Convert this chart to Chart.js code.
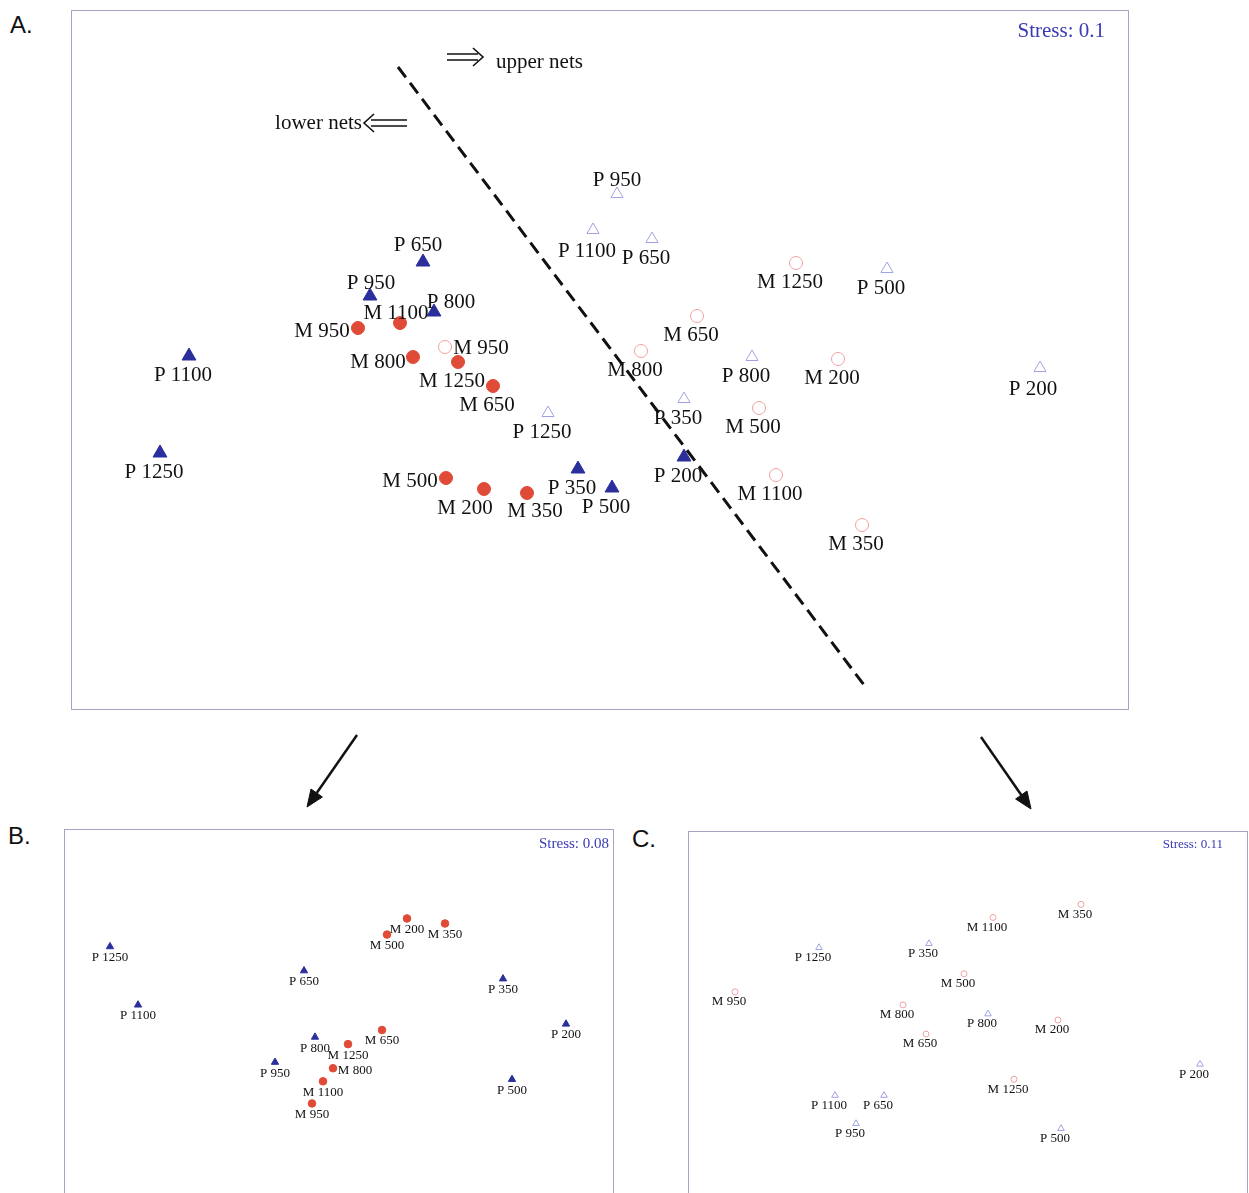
<!DOCTYPE html>
<html>
<head>
<meta charset="utf-8">
<title>MDS ordination of net samples</title>
<script src="https://cdn.jsdelivr.net/npm/chart.js@4.4.0/dist/chart.umd.min.js"></script>
<style>
  html, body { margin: 0; padding: 0; background: #fff; }
  body { width: 1249px; height: 1193px; position: relative; overflow: hidden; }
  .panel { position: absolute; border: 1px solid #a4a4c4; background: #fff; }
  .tag { position: absolute; font: 24px "Liberation Sans", Arial, sans-serif; line-height: 24px; color: #111; }
  svg.links { position: absolute; left: 0; top: 0; }
</style>
</head>
<body>
<div class="tag" style="left:10px;top:13px">A.</div>
<div class="tag" style="left:8px;top:824px">B.</div>
<div class="tag" style="left:632px;top:827px">C.</div>

<div class="panel" style="left:71px;top:10px;width:1056px;height:698px"><canvas id="chartA"></canvas></div>
<div class="panel" style="left:64px;top:829px;width:548px;height:380px"><canvas id="chartB"></canvas></div>
<div class="panel" style="left:688px;top:831px;width:558px;height:380px"><canvas id="chartC"></canvas></div>

<svg class="links" width="1249" height="1193">
  <g stroke="#111" stroke-width="2.5" fill="#111">
    <line x1="357" y1="735" x2="316.7" y2="793"/>
    <polygon points="307,807 322.4,797 311,789" stroke-width="1"/>
    <line x1="981" y1="737" x2="1021.3" y2="795"/>
    <polygon points="1031,809 1015.6,799 1027,791" stroke-width="1"/>
  </g>
</svg>

<script>
const depths = [200, 350, 500, 650, 800, 950, 1100, 1250];
const pNames = depths.map(d => 'P ' + d);
const mNames = depths.map(d => 'M ' + d);

// A: all nets together, in depth order 200 ... 1250
const aLowerP = [[0.42, -0.485], [-0.11, -0.545], [0.06, -0.64], [-0.885, 0.49],
                 [-0.83, 0.24], [-1.15, 0.32], [-2.055, 0.02], [-2.2, -0.465]];
const aLowerM = [[-0.58, -0.645], [-0.365, -0.665], [-0.77, -0.59], [-0.535, -0.13],
                 [-0.935, 0.015], [-1.21, 0.16], [-1.0, 0.185], [-0.71, -0.01]];
const aUpperP = [[2.2, -0.04], [0.42, -0.195], [1.435, 0.455], [0.26, 0.605],
                 [0.76, 0.015], [0.085, 0.83], [-0.035, 0.65], [-0.26, -0.265]];
const aUpperM = [[1.19, 0.005], [1.31, -0.825], [0.795, -0.24], [0.485, 0.22],
                 [0.205, 0.045], [-0.775, 0.065], [0.88, -0.575], [0.98, 0.485]];
const dividerLine = [[-1.01, 1.465], [1.32, -1.625]];

// B: lower nets only
const bP = [[2.27, -0.04], [1.64, 0.41], [1.73, -0.59], [-0.35, 0.49],
            [-0.24, -0.17], [-0.64, -0.42], [-2.01, 0.15], [-2.29, 0.73]];
const bM = [[0.68, 1.01], [1.06, 0.96], [0.48, 0.85], [0.43, -0.10],
            [-0.06, -0.48], [-0.27, -0.83], [-0.16, -0.61], [0.09, -0.24]];

// C: upper nets only
const cP = [[2.32, -0.42], [-0.39, 0.78], [0.93, -1.06], [-0.84, -0.73],
            [0.20, 0.08], [-1.12, -1.01], [-1.33, -0.73], [-1.49, 0.74]];
const cM = [[0.90, 0.02], [1.13, 1.17], [-0.04, 0.48], [-0.42, -0.12],
            [-0.65, 0.17], [-2.33, 0.30], [0.25, 1.04], [0.46, -0.57]];

const stressA = 'Stress: 0.1';
const stressB = 'Stress: 0.08';
const stressC = 'Stress: 0.11';

const SERIF = '"Liberation Serif", "Times New Roman", serif';

// writes the sample name next to each point
const pointLabels = {
  id: 'pointLabels',
  afterDatasetsDraw(chart, args, opts) {
    const ctx = chart.ctx;
    ctx.save();
    ctx.font = opts.size + 'px ' + SERIF;
    ctx.fillStyle = '#111';
    ctx.textAlign = 'center';
    ctx.textBaseline = 'middle';
    chart.data.datasets.forEach((ds, i) => {
      if (!ds.names) return;
      chart.getDatasetMeta(i).data.forEach((pt, j) => {
        const name = ds.names[j];
        const off = (ds.nudge && ds.nudge[name]) || opts.offset;
        ctx.fillText(name, pt.x + off[0], pt.y + off[1]);
      });
    });
    ctx.restore();
  }
};

const stressNote = {
  id: 'stressNote',
  afterDraw(chart, args, opts) {
    const ctx = chart.ctx, area = chart.chartArea;
    ctx.save();
    ctx.font = opts.size + 'px ' + SERIF;
    ctx.fillStyle = '#3a3ab4';
    ctx.textAlign = 'right';
    ctx.textBaseline = 'middle';
    ctx.fillText(opts.text, area.right - opts.right, area.top + opts.top);
    ctx.restore();
  }
};

// "=> upper nets" / "lower nets <=" hints beside the divider
const netHints = {
  id: 'netHints',
  afterDraw(chart, args, opts) {
    const ctx = chart.ctx, sx = chart.scales.x, sy = chart.scales.y;
    ctx.save();
    ctx.strokeStyle = '#111';
    ctx.fillStyle = '#111';
    ctx.lineWidth = 1.6;
    ctx.font = '21px ' + SERIF;
    ctx.textBaseline = 'middle';

    let x = sx.getPixelForValue(opts.upper[0]), y = sy.getPixelForValue(opts.upper[1]);
    ctx.beginPath();
    ctx.moveTo(x, y - 3); ctx.lineTo(x + 31, y - 3);
    ctx.moveTo(x, y + 3); ctx.lineTo(x + 31, y + 3);
    ctx.moveTo(x + 26, y - 9); ctx.lineTo(x + 36, y); ctx.lineTo(x + 26, y + 9);
    ctx.stroke();
    ctx.textAlign = 'left';
    ctx.fillText('upper nets', x + 49, y + 5);

    x = sx.getPixelForValue(opts.lower[0]); y = sy.getPixelForValue(opts.lower[1]);
    ctx.beginPath();
    ctx.moveTo(x, y - 3); ctx.lineTo(x - 36, y - 3);
    ctx.moveTo(x, y + 3); ctx.lineTo(x - 36, y + 3);
    ctx.moveTo(x - 33, y - 9); ctx.lineTo(x - 43, y); ctx.lineTo(x - 33, y + 9);
    ctx.stroke();
    ctx.textAlign = 'right';
    ctx.fillText('lower nets', x - 45, y);
    ctx.restore();
  }
};

function points(pairs) {
  return pairs.map(p => ({ x: p[0], y: p[1] }));
}

function marks(pairs, names, style, nudge) {
  return Object.assign({ data: points(pairs), names: names, nudge: nudge || null, showLine: false }, style);
}

function filledTri(r) {
  return { pointStyle: 'triangle', pointRadius: r, pointBackgroundColor: '#2b2f9c', pointBorderColor: '#2b2f9c', pointBorderWidth: 1 };
}
function filledDot(r) {
  return { pointStyle: 'circle', pointRadius: r, pointBackgroundColor: '#df4b37', pointBorderColor: '#df4b37', pointBorderWidth: 1 };
}
function openTri(r) {
  return { pointStyle: 'triangle', pointRadius: r, pointBackgroundColor: 'rgba(0,0,0,0)', pointBorderColor: '#a0a3e4', pointBorderWidth: 1 };
}
function openDot(r) {
  return { pointStyle: 'circle', pointRadius: r, pointBackgroundColor: 'rgba(0,0,0,0)', pointBorderColor: '#f2a0a0', pointBorderWidth: 1 };
}

function mdsChart(id, datasets, range, pluginOpts) {
  return new Chart(document.getElementById(id), {
    type: 'scatter',
    data: { datasets: datasets },
    options: {
      responsive: true,
      maintainAspectRatio: false,
      animation: false,
      events: [],
      layout: { padding: 0, autoPadding: false },
      scales: {
        x: { type: 'linear', display: false, min: -range[0], max: range[0] },
        y: { type: 'linear', display: false, min: -range[1], max: range[1] }
      },
      plugins: Object.assign({ legend: { display: false }, tooltip: { enabled: false } }, pluginOpts)
    },
    plugins: [pointLabels, stressNote, netHints]
  });
}

mdsChart('chartA', [
  { data: points(dividerLine), showLine: true, borderColor: '#111', borderWidth: 3,
    borderDash: [13, 7], pointRadius: 0 },
  marks(aLowerP, pNames, filledTri(8), { 'P 650': [-5, -17], 'P 950': [1, -13], 'P 800': [17, -10] }),
  marks(aLowerM, mNames, filledDot(6.5), {
    'M 1100': [-4, -10], 'M 950': [-36, 3], 'M 800': [-35, 5],
    'M 500': [-36, 3], 'M 200': [-19, 19], 'M 350': [8, 18] }),
  marks(aUpperP, pNames, openTri(7), { 'P 950': [0, -14], 'P 1100': [-6, 21], 'P 200': [-7, 21] }),
  marks(aUpperM, mNames, openDot(6.5), { 'M 950': [36, 1] })
], [2.64, 1.745], {
  pointLabels: { size: 21, offset: [-6, 19] },
  stressNote: { text: stressA, size: 21, right: 23, top: 20 },
  netHints: { upper: [-0.765, 1.515], lower: [-0.965, 1.185] }
});

mdsChart('chartB', [
  marks(bP, pNames, filledTri(4.2)),
  marks(bM, mNames, filledDot(3.8), { 'M 800': [22, 2] })
], [2.74, 1.89], {
  pointLabels: { size: 13, offset: [0, 11] },
  stressNote: { text: stressB, size: 15, right: 4, top: 14 },
  netHints: false
});

mdsChart('chartC', [
  marks(cP, pNames, openTri(3.8)),
  marks(cM, mNames, openDot(3))
], [2.79, 1.89], {
  pointLabels: { size: 13, offset: [-6, 10] },
  stressNote: { text: stressC, size: 13, right: 24, top: 13 },
  netHints: false
});
</script>
</body>
</html>
